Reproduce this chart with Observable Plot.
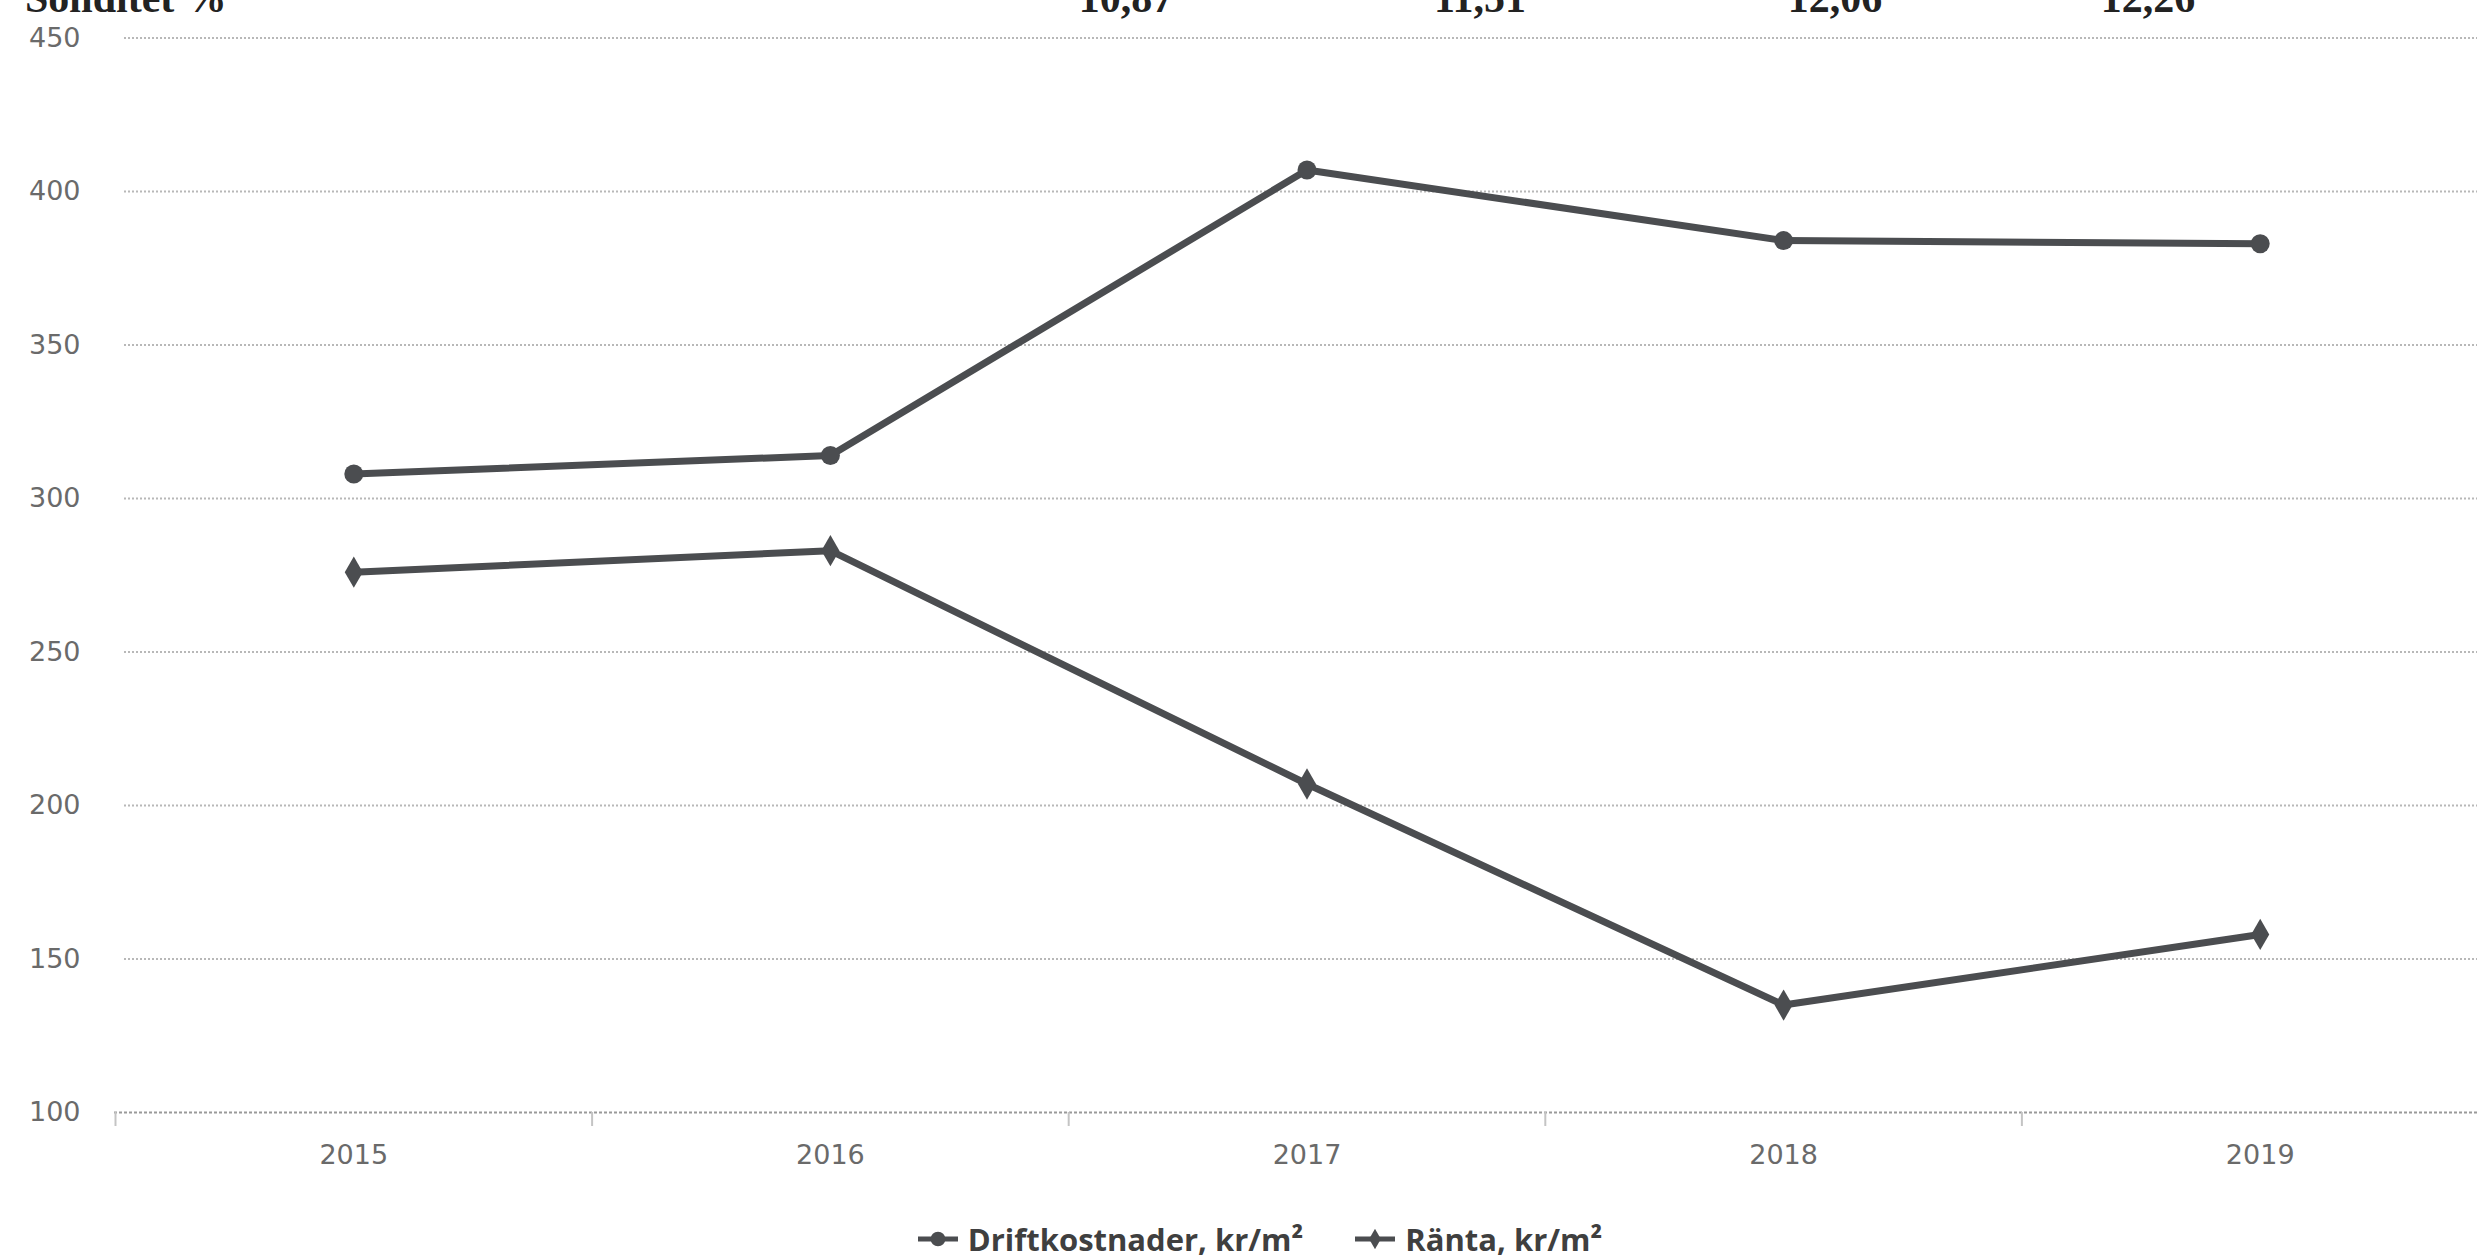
<!DOCTYPE html>
<html>
<head>
<meta charset="utf-8">
<script src="https://cdn.jsdelivr.net/npm/d3@7"></script>
<script src="https://cdn.jsdelivr.net/npm/@observablehq/plot@0.6"></script>
<style>
  html, body { margin: 0; padding: 0; background: #fff; }
  body { width: 2477px; height: 1256px; overflow: hidden; position: relative; }
  #header { position: absolute; left: 0; top: 0; width: 2477px; height: 24px; }
  #chart { position: absolute; left: 0; top: 0; }
  #legend { position: absolute; left: 0; top: 1218px; width: 2520px; display: flex; justify-content: center; align-items: center; gap: 52px;
            font-family: "Open Sans", sans-serif; font-weight: bold; font-size: 31px; color: #3f3f3f; }
  .item { display: flex; align-items: center; gap: 10px; white-space: nowrap; }
</style>
</head>
<body>
<svg id="header" width="2477" height="24"></svg>
<div id="chart"></div>
<div id="legend"></div>
<script>
// ---- data ----
const years = [2015, 2016, 2017, 2018, 2019];
const driftkostnader = [308, 314, 407, 384, 383];
const ranta = [276, 283, 207, 135, 158];
const seriesNames = ["Driftkostnader, kr/m²", "Ränta, kr/m²"];
const seriesSymbols = ["circle", "diamond"];
const yTicks = [100, 150, 200, 250, 300, 350, 400, 450];
const bandEdges = [2014.5, 2015.5, 2016.5, 2017.5, 2018.5, 2019.5];
// cut-off table row above the chart
const headerLabel = "Soliditet %";
const headerValues = ["10,87", "11,51", "12,06", "12,26"];

// ---- layout constants (not data) ----
const headerValueX = [1126, 1480, 1835, 2148];
const lineColor = "#4b4d50";

// ---- header (partially visible row, cut off at the top as in the source) ----
const hdr = d3.select("#header");
hdr.append("text").attr("x", 25).attr("y", 12).text(headerLabel)
  .attr("font-family", "Liberation Serif").attr("font-weight", "bold").attr("font-size", 42).attr("fill", "#222");
hdr.selectAll("text.v").data(headerValues).join("text").attr("class", "v")
  .attr("x", (d, i) => headerValueX[i]).attr("y", 12).attr("text-anchor", "middle").text(d => d)
  .attr("font-family", "Liberation Serif").attr("font-weight", "bold").attr("font-size", 42).attr("fill", "#222");

// ---- chart ----
const rows = years.flatMap((yr, i) => [
  {year: yr, value: driftkostnader[i], series: seriesNames[0]},
  {year: yr, value: ranta[i], series: seriesNames[1]}
]);

const chart = Plot.plot({
  width: 2477,
  height: 1200,
  marginTop: 37.5,
  marginBottom: 88,
  marginLeft: 114,
  marginRight: 0,
  style: {fontFamily: "DejaVu Sans", fontSize: "27px", color: "#6a6a6a", background: "transparent", overflow: "visible"},
  x: {domain: [2014.5, 2019.5], range: [115, 2498], ticks: years, tickFormat: d => String(d), tickSize: 0, tickPadding: 32, label: null},
  y: {domain: [100, 450], ticks: yTicks, tickSize: 0, tickPadding: 34, label: null},
  symbol: {domain: seriesNames, range: seriesSymbols},
  marks: [
    Plot.ruleY(yTicks.slice(1), {stroke: "#b8b8b8", strokeWidth: 2, strokeDasharray: "2,2", insetLeft: 10}),
    Plot.ruleY([100], {stroke: "#9a9a9a", strokeWidth: 2, strokeDasharray: "3,2"}),
    Plot.ruleX(bandEdges, {y1: 100, y2: 100, insetBottom: -14, stroke: "#c4c4c4", strokeWidth: 2}),
    Plot.line(rows, {x: "year", y: "value", z: "series", stroke: lineColor, strokeWidth: 7, curve: "linear"}),
    Plot.dot(rows, {x: "year", y: "value", symbol: "series", fill: lineColor, stroke: "none", r: 9.5})
  ]
});
document.getElementById("chart").appendChild(chart);

// ---- legend ----
const legend = d3.select("#legend");
seriesNames.forEach((name, i) => {
  const item = legend.append("div").attr("class", "item");
  const sw = item.append("svg").attr("width", 40).attr("height", 20);
  sw.append("line").attr("x1", 0).attr("x2", 40).attr("y1", 10).attr("y2", 10)
    .attr("stroke", lineColor).attr("stroke-width", 5);
  const sym = seriesSymbols[i] === "circle" ? d3.symbolCircle : d3.symbolDiamond;
  sw.append("path").attr("transform", "translate(20,10)")
    .attr("d", d3.symbol(sym, i === 0 ? 170 : 120)()).attr("fill", lineColor);
  item.append("span").text(name);
});
</script>
</body>
</html>
